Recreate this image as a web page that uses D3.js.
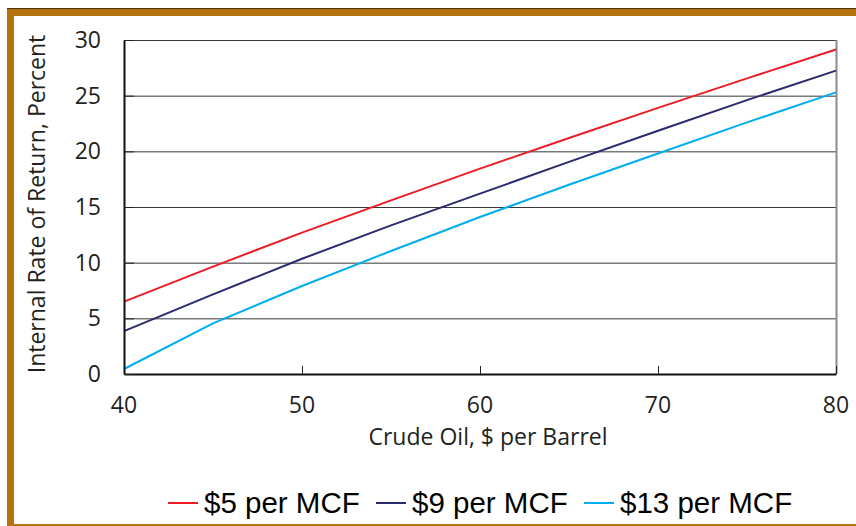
<!DOCTYPE html>
<html>
<head>
<meta charset="utf-8">
<script src="https://cdn.jsdelivr.net/npm/d3@7"></script>
<style>
  body { margin: 0; background: #fff; }
  svg { display: block; }
  .tick-label { font-family: "Open Sans", sans-serif; font-size: 23px; fill: #231f20; }
  .axis-title { font-family: "Open Sans", sans-serif; font-size: 23px; fill: #231f20; }
  .legend-text { font-family: "Liberation Sans", Arial, sans-serif; font-size: 29.5px; fill: #000; }
</style>
</head>
<body>
<div id="chart"></div>
<script>
// Data
const oilPrices = [40, 45, 50, 55, 60, 65, 70, 75, 80];
const gas5 = [6.5, 9.65, 12.7, 15.6, 18.45, 21.2, 23.9, 26.55, 29.15];
const gas9 = [3.85, 7.15, 10.35, 13.35, 16.2, 19.05, 21.85, 24.6, 27.25];
const gas13 = [0.45, 4.55, 7.9, 11.05, 14.1, 17.0, 19.8, 22.6, 25.3];
const seriesNames = ["$5 per MCF", "$9 per MCF", "$13 per MCF"];
const colors = ["#ed1c24", "#2a2a6e", "#00aeef"];
const xTicks = [40, 50, 60, 70, 80];
const yTicks = [0, 5, 10, 15, 20, 25, 30];

const series = [gas5, gas9, gas13].map((values, i) => ({
  name: seriesNames[i],
  color: colors[i],
  values: values.map((v, j) => ({ x: oilPrices[j], y: v })),
}));

const svgWidth = 856, svgHeight = 526;

const svg = d3.select("#chart").append("svg")
  .attr("width", svgWidth)
  .attr("height", svgHeight);

// Frame
const frameColor = "#b5730f";
svg.append("rect").attr("x", 7).attr("y", 8).attr("width", svgWidth - 7).attr("height", 1).attr("fill", "#4a3310");
svg.append("rect").attr("x", 7).attr("y", 9).attr("width", svgWidth - 7).attr("height", 7).attr("fill", frameColor);
svg.append("rect").attr("x", 7).attr("y", 9).attr("width", 7).attr("height", svgHeight - 9).attr("fill", frameColor);
svg.append("rect").attr("x", 7).attr("y", svgHeight - 2).attr("width", svgWidth - 7).attr("height", 2).attr("fill", frameColor);

// Scales
const x = d3.scaleLinear().domain([40, 80]).range([124, 836]);
const y = d3.scaleLinear().domain([0, 30]).range([374, 40]);

const g = svg.append("g");

// Gridlines
g.append("g")
  .selectAll("line")
  .data(yTicks.filter((d) => d > 0))
  .join("line")
  .attr("x1", x(40)).attr("x2", x(80))
  .attr("y1", (d) => y(d) + 0.5).attr("y2", (d) => y(d) + 0.5)
  .attr("stroke", "#383838")
  .attr("stroke-width", 1);

// Right border
g.append("line")
  .attr("x1", x(80) + 0.5).attr("x2", x(80) + 0.5)
  .attr("y1", y(30)).attr("y2", y(0))
  .attr("stroke", "#8a8a8a").attr("stroke-width", 2);

// Lines
const line = d3.line().x((d) => x(d.x)).y((d) => y(d.y));
g.append("g")
  .selectAll("path")
  .data(series)
  .join("path")
  .attr("fill", "none")
  .attr("stroke", (d) => d.color)
  .attr("stroke-width", 2)
  .attr("d", (d) => line(d.values));

// Axes
const xAxis = g.append("g")
  .attr("transform", `translate(0,${y(0)})`)
  .call(d3.axisBottom(x).tickValues(xTicks).tickSizeInner(-8).tickSizeOuter(0).tickFormat(""));
xAxis.select(".domain").attr("stroke", "#111").attr("stroke-width", 2);
xAxis.selectAll(".tick line").attr("stroke", "#222");

const yAxis = g.append("g")
  .attr("transform", `translate(${x(40)},0)`)
  .call(d3.axisLeft(y).tickValues(yTicks).tickSizeInner(-10).tickSizeOuter(0).tickFormat(""));
yAxis.select(".domain").attr("stroke", "#111").attr("stroke-width", 2);
yAxis.selectAll(".tick line").attr("stroke", "#222");

// Tick labels
g.append("g")
  .selectAll("text")
  .data(xTicks)
  .join("text")
  .attr("class", "tick-label")
  .attr("x", (d) => x(d))
  .attr("y", 413)
  .attr("text-anchor", "middle")
  .text((d) => d);

g.append("g")
  .selectAll("text")
  .data(yTicks)
  .join("text")
  .attr("class", "tick-label")
  .attr("x", 101)
  .attr("y", (d) => y(d) + 8)
  .attr("text-anchor", "end")
  .text((d) => d);

// Axis titles
svg.append("text")
  .attr("class", "axis-title")
  .attr("x", 488)
  .attr("y", 445)
  .attr("text-anchor", "middle")
  .text("Crude Oil, $ per Barrel");

svg.append("text")
  .attr("class", "axis-title")
  .attr("transform", `translate(45,${(y(0) + y(30)) / 2 - 3}) rotate(-90)`)
  .attr("text-anchor", "middle")
  .text("Internal Rate of Return, Percent");

// Legend
const legendX = [168, 376, 584];
const legend = svg.append("g")
  .selectAll("g")
  .data(series)
  .join("g")
  .attr("transform", (d, i) => `translate(${legendX[i]},503)`);
legend.append("line")
  .attr("x1", 0).attr("x2", 30)
  .attr("stroke", (d) => d.color)
  .attr("stroke-width", 2);
legend.append("text")
  .attr("class", "legend-text")
  .attr("x", 36)
  .attr("y", 10)
  .text((d) => d.name);
</script>
</body>
</html>
